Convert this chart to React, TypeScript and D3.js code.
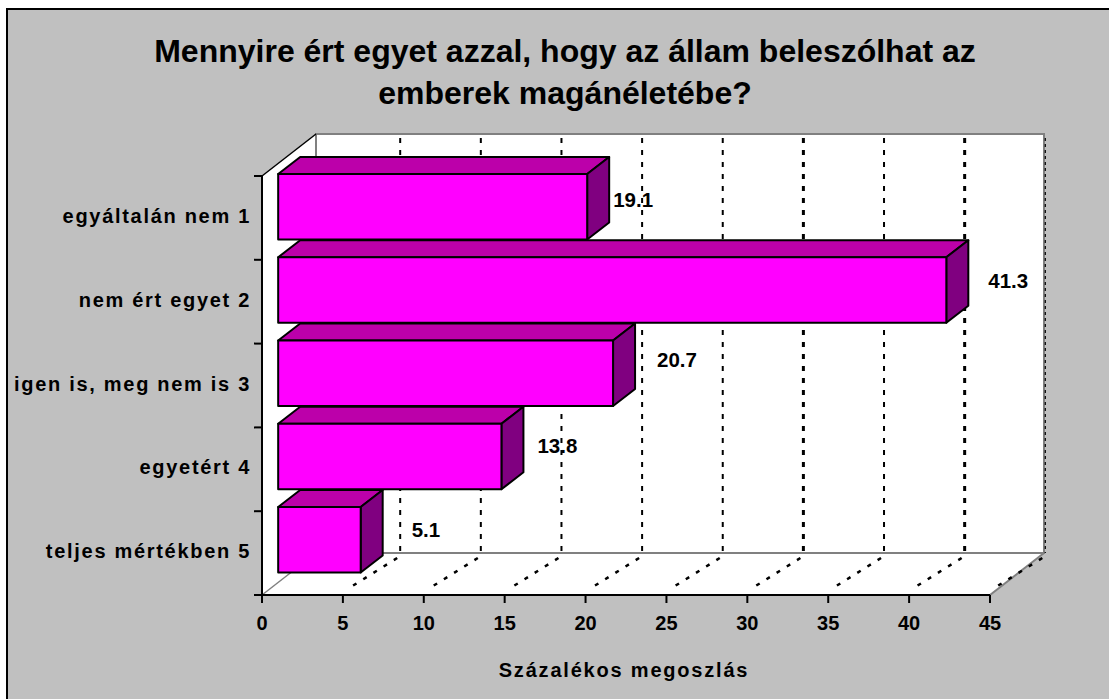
import React from "react";
import * as d3 from "d3";

const categories = ["egyáltalán nem 1", "nem ért egyet 2", "igen is, meg nem is 3", "egyetért 4", "teljes mértékben 5"];
const values = [19.1, 41.3, 20.7, 13.8, 5.1];
const xTicks = [0, 5, 10, 15, 20, 25, 30, 35, 40, 45];
const titleLines = ["Mennyire ért egyet azzal, hogy az állam beleszólhat az", "emberek magánéletébe?"];
const xTitle = "Százalékos megoszlás";

const W = 1109, H = 699;
const FONT = "'Liberation Sans', Arial, sans-serif";
const x = d3.scaleLinear().domain([0, 45]).range([262, 990]);
const yTick = d3.scaleLinear().domain([0, 5]).range([176, 595]);
const yBand = d3.scaleBand<string>().domain(categories).range([174, 174 + 83.25 * 5]);
const barH = 65.5;
const baseline = 1; // bars start one unit right of the axis in the original
const depthX = 54, depthY = 42;
const barDX = 22, barDY = 17;
const gridOff = 3.3;
const gridW = [2, 2, 2, 2, 2, 3, 2, 3, 1.2];
const labelDx = [26, 42, 44, 36, 51];
const labelDy = [0, -2, -6, -4, -2.5];
const C = { bg: "#c0c0c0", front: "#ff00ff", top: "#bc00aa", side: "#800080", wall: "#808080" };

const poly = (pts: number[][]) => pts.map((p) => p.join(",")).join(" ");

export default function App() {
  const x0 = x(0), x45 = x(45), yT = yTick(0), yB = yTick(5);
  return (
    <svg width={W} height={H} viewBox={`0 0 ${W} ${H}`} style={{ position: "absolute", left: 0, top: 0, background: "#fff" }} fontFamily={FONT} fontWeight="bold" fill="#000">
      <rect x={7} y={9} width={W + 10} height={H + 10} fill={C.bg} stroke="#000" strokeWidth={2} />
      {titleLines.map((t, i) => (
        <text key={t} x={565} y={62 + i * 42} textAnchor="middle" fontSize={32}>{t}</text>
      ))}
      {/* walls */}
      <polygon points={poly([[x0, yT], [x0 + depthX, yT - depthY], [x45 + depthX, yT - depthY], [x45 + depthX, yB - depthY], [x45, yB], [x0, yB]])} fill="#fff" />
      <polyline points={poly([[x0 + depthX, yB - depthY], [x0 + depthX, yT - depthY], [x45 + depthX, yT - depthY], [x45 + depthX, yB - depthY], [x0 + depthX, yB - depthY]])} fill="none" stroke={C.wall} strokeWidth={2} />
      <line x1={x0} y1={yB} x2={x0 + depthX} y2={yB - depthY} stroke={C.wall} strokeWidth={1.5} />
      <line x1={x45} y1={yB} x2={x45 + depthX} y2={yB - depthY} stroke={C.wall} strokeWidth={2} />
      <line x1={x0} y1={yT} x2={x0 + depthX} y2={yT - depthY} stroke="#000" strokeWidth={1.5} />
      {/* gridlines */}
      {xTicks.slice(1).map((t, i) => {
        const gx = x(t) + depthX + gridOff - i * 0.25;
        return (
          <g key={t} stroke="#000">
            <line x1={gx} y1={yT - depthY + 4} x2={gx} y2={yB - depthY} strokeWidth={gridW[i]} strokeDasharray={t === 45 ? "3 3" : "5 7"} />
            <line x1={gx - 3} y1={yB - depthY + 5} x2={gx - depthX + 3} y2={yB - 7} strokeWidth={2.5} strokeDasharray="4 8" />
          </g>
        );
      })}
      {/* bars */}
      {categories.map((c, i) => {
        const l = x(baseline), r = x(values[i] + baseline), t = yBand(c)!, b = t + barH;
        return (
          <g key={c} stroke="#000" strokeWidth={2} strokeLinejoin="round">
            <polygon points={poly([[l, t], [l + barDX, t - barDY], [r + barDX, t - barDY], [r, t]])} fill={C.top} />
            <polygon points={poly([[r, t], [r + barDX, t - barDY], [r + barDX, b - barDY], [r, b]])} fill={C.side} />
            <rect x={l} y={t} width={r - l} height={barH} fill={C.front} />
          </g>
        );
      })}
      {/* axes */}
      <g stroke="#000" strokeWidth={2}>
        <line x1={x0} y1={yT} x2={x0} y2={yB} />
        <line x1={x0} y1={yB} x2={x45} y2={yB} />
        {d3.range(0, 6).map((k) => <line key={k} x1={x0 - 8} x2={x0} y1={yTick(k)} y2={yTick(k)} />)}
        {xTicks.map((t) => <line key={t} x1={x(t)} x2={x(t)} y1={yB} y2={yB + 8} />)}
      </g>
      {xTicks.map((t) => (
        <text key={t} x={x(t)} y={630} textAnchor="middle" fontSize={20}>{t}</text>
      ))}
      {categories.map((c, i) => (
        <text key={c} x={251} y={yBand(c)! + 49 + i * 0.5} textAnchor="end" fontSize={20} letterSpacing={1.7}>{c}</text>
      ))}
      {categories.map((c, i) => (
        <text key={c} x={x(values[i] + baseline) + labelDx[i]} y={yBand(c)! + barH / 2 + labelDy[i]} fontSize={20.5}>{values[i].toFixed(1)}</text>
      ))}
      <text x={624} y={677} textAnchor="middle" fontSize={20} letterSpacing={1.8}>{xTitle}</text>
    </svg>
  );
}
